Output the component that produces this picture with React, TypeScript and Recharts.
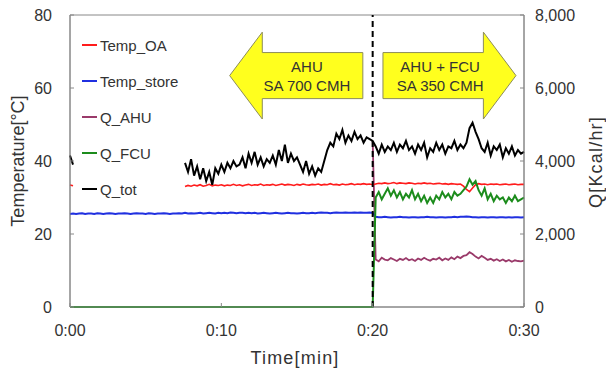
import { Legend, Line, LineChart, ReferenceArea, ReferenceLine, XAxis, YAxis } from 'recharts';

// sampling grid: one reading every 0.2 min over 0:00 - 0:30
const times: number[] = Array.from({ length: 151 }, (_, i) => Math.round(i * 2) / 10);

const xTicks = [0, 10, 20, 30];
const tempTicks = [0, 20, 40, 60, 80];
const qTicks = [0, 2000, 4000, 6000, 8000];

// Temp_OA [°C]: a short piece at 0:00, then from 0:07.6 on
const tempOaStart = [33.4, 33.2];
const tempOaMain = [
  33.0, 33.3, 33.1, 33.4, 33.2, 33.5, 33.1, 33.3, 33.6, 33.2,
  33.4, 33.3, 33.5, 33.2, 33.4, 33.3, 33.6, 33.3, 33.5, 33.2,
  33.4, 33.6, 33.3, 33.5, 33.4, 33.7, 33.3, 33.5, 33.4, 33.6,
  33.3, 33.5, 33.7, 33.4, 33.6, 33.5, 33.3, 33.6, 33.4, 33.7,
  33.5, 33.4, 33.6, 33.5, 33.7, 33.4, 33.6, 33.5, 33.8, 33.5,
  33.6, 33.4, 33.7, 33.5, 33.6, 33.8, 33.5, 33.7, 33.6, 33.8,
  33.6, 33.7, 33.5,
  33.7, 33.9, 33.8, 34.0, 33.8, 33.9, 34.1, 33.8, 34.0, 33.9,
  33.8, 34.0, 33.9, 33.7, 33.9, 33.8, 34.0, 33.8, 33.9, 33.7,
  33.8, 33.9, 33.7, 33.8, 33.6, 33.8, 33.7, 33.6, 33.7, 33.1,
  32.2, 31.6, 32.6, 33.5, 33.8, 33.6, 33.7, 33.5, 33.7, 33.6,
  33.7, 33.5, 33.6, 33.7, 33.5, 33.6, 33.7, 33.5, 33.6, 33.6,
];

// Temp_store [°C], whole run
const tempStore = [
  25.5, 25.6, 25.5, 25.6, 25.7, 25.5, 25.6, 25.6, 25.5, 25.7,
  25.6, 25.5, 25.6, 25.7, 25.6, 25.5, 25.6, 25.6, 25.7, 25.6,
  25.5, 25.6, 25.7, 25.6, 25.6, 25.5, 25.7, 25.6, 25.5, 25.6,
  25.6, 25.7, 25.6, 25.5, 25.6, 25.6, 25.7, 25.6, 25.8, 25.6,
  25.7, 25.6, 25.7, 25.8, 25.6, 25.7, 25.8, 25.7, 25.6, 25.8,
  25.7, 25.8, 25.7, 25.9, 25.8, 25.7, 25.8, 25.8, 25.7, 25.8,
  25.7, 25.8, 25.6, 25.7, 25.8, 25.7, 25.6, 25.7, 25.8, 25.7,
  25.6, 25.7, 25.8, 25.7, 25.7, 25.6, 25.7, 25.8, 25.7, 25.7,
  25.8, 25.7, 25.8, 25.9, 25.8, 25.8, 25.7, 25.8, 25.9, 25.8,
  25.8, 25.9, 25.8, 25.8, 25.9, 25.8, 25.9, 25.8, 25.8, 25.9,
  25.8,
  24.7, 24.6, 24.6, 24.7, 24.6, 24.5, 24.6, 24.6, 24.7, 24.6,
  24.6, 24.5, 24.6, 24.6, 24.5, 24.6, 24.6, 24.7, 24.6, 24.6,
  24.5, 24.6, 24.6, 24.5, 24.6, 24.6, 24.7, 24.6, 24.7, 24.7,
  24.8, 24.7, 24.6, 24.6, 24.5, 24.6, 24.6, 24.5, 24.6, 24.6,
  24.5, 24.6, 24.6, 24.5, 24.6, 24.5, 24.6, 24.6, 24.5, 24.6,
];

// Q_AHU [Kcal/hr] from 0:20 (before that it is all of Q_tot)
const qAhuFrom20 = [
  4550,
  1300, 1250, 1350, 1300, 1280, 1340, 1300, 1260, 1320, 1290,
  1340, 1280, 1310, 1260, 1330, 1290, 1350, 1300, 1270, 1320,
  1300, 1350, 1280, 1330, 1290, 1360, 1310, 1380, 1340, 1400,
  1420, 1500, 1450, 1380, 1330, 1400, 1350, 1290, 1320, 1270,
  1310, 1260, 1300, 1250, 1290, 1240, 1280, 1260, 1250, 1270,
];

// Q_FCU [Kcal/hr]: off (0) until 0:20
const qFcuOff = [0];
const qFcuFrom20 = [
  0,
  3000, 3150, 2950, 3100, 3250, 3050, 3200, 3000, 3150, 2950,
  3100, 3000, 3200, 2950, 3100, 2900, 3050, 2850, 3000, 2850,
  3050, 2950, 3150, 3000, 3100, 2950, 3150, 3050, 3100, 3200,
  3300, 3500, 3350, 3450, 3200, 3050, 3250, 2950, 3100, 2900,
  3050, 2950, 3000, 2850, 3000, 2900, 3050, 2900, 2950, 3000,
];

// Q_tot [Kcal/hr]
const qTotStart = [4150, 3900];
const qTotMain = [
  3950, 3700, 4050, 3600, 3850, 3500, 3800, 3450, 3700, 3350,
  3800, 3650, 3900, 3700, 3950, 3800, 4000, 3850, 3900, 4100,
  3800, 4200, 3950, 4250, 3900, 4100, 3850, 4050, 3950, 4150,
  3900, 4300, 4000, 4450, 3950, 4200, 4000, 4100, 3900, 3700,
  4000, 3650, 3850, 3600, 3800, 3700, 4000, 4300, 4500, 4400,
  4750, 4600, 4850, 4500, 4700, 4550, 4800, 4600, 4700, 4500,
  4650, 4600, 4550,
  4400, 4200, 4450, 4250, 4400, 4300, 4500, 4250, 4450, 4350,
  4550, 4300, 4400, 4200, 4450, 4300, 4500, 4100, 4350, 4250,
  4500, 4300, 4450, 4200, 4400, 4350, 4550, 4300, 4450, 4350,
  4500, 4900, 5050, 4800, 4600, 4350, 4250, 4500, 4150, 4400,
  4300, 4450, 4100, 4350, 4200, 4400, 4150, 4300, 4200, 4250,
];

type Row = Record<string, number | null>;
const table: Row[] = times.map((t) => ({ t, tempOa: null, tempStore: null, qAhu: null, qFcu: null, qTot: null }));

function place(key: string, from: number, values: number[]) {
  const i0 = times.indexOf(from);
  values.forEach((v, i) => {
    table[i0 + i][key] = v;
  });
}
place('tempOa', 0, tempOaStart);
place('tempOa', 7.6, tempOaMain);
place('tempStore', 0, tempStore);
place('qAhu', 20, qAhuFrom20);
place('qFcu', 0, qFcuOff);
place('qFcu', 20, qFcuFrom20);
place('qTot', 0, qTotStart);
place('qTot', 7.6, qTotMain);

const series = [
  { key: 'tempOa', name: 'Temp_OA', color: '#ff1c1c', axis: 'temp', width: 1.6 },
  { key: 'tempStore', name: 'Temp_store', color: '#2030e0', axis: 'temp', width: 2 },
  { key: 'qAhu', name: 'Q_AHU', color: '#9a3a6a', axis: 'q', width: 1.8 },
  { key: 'qFcu', name: 'Q_FCU', color: '#1c8c1c', axis: 'q', width: 2 },
  { key: 'qTot', name: 'Q_tot', color: '#000000', axis: 'q', width: 2 },
];
const drawOrder = ['qAhu', 'tempStore', 'tempOa', 'qFcu', 'qTot'];

// annotation arrows, in data units (minutes, °C)
const arrows = [
  { dir: 'left', x1: 10.55, x2: 19.35, lines: ['AHU', 'SA 700 CMH'], textAt: 0.58 },
  { dir: 'right', x1: 20.68, x2: 29.47, lines: ['AHU + FCU', 'SA 350 CMH'], textAt: 0.43 },
];
const arrowTop = 75.3;
const arrowBottom = 51.5;

const font = '"Liberation Sans", Arial, sans-serif';

function arrowShape(dir: string, lines: string[], textAt: number) {
  return (p: any) => {
    const { x, y, width: w, height: h } = p;
    const head = w * 0.245;
    const sTop = y + h * 0.235;
    const sBot = y + h * 0.765;
    const mid = y + h / 2;
    const pts =
      dir === 'left'
        ? [[x, mid], [x + head, y], [x + head, sTop], [x + w, sTop], [x + w, sBot], [x + head, sBot], [x + head, y + h]]
        : [[x + w, mid], [x + w - head, y], [x + w - head, sTop], [x, sTop], [x, sBot], [x + w - head, sBot], [x + w - head, y + h]];
    const cx = x + w * textAt;
    return (
      <g>
        <polygon points={pts.map((q) => q.join(',')).join(' ')} fill="#ffff1e" stroke="#8c8c5a" strokeWidth={1} />
        {lines.map((l, i) => (
          <text key={l} x={cx} y={y + h * (0.4 + i * 0.22)} dy="0.35em" textAnchor="middle" fontSize={15} fill="#333" fontFamily={font}>
            {l}
          </text>
        ))}
      </g>
    );
  };
}

function LegendBox() {
  return (
    <div style={{ fontFamily: font, fontSize: 15, color: '#333' }}>
      {series.map((s) => (
        <div key={s.key} style={{ display: 'flex', alignItems: 'center', height: 36 }}>
          <span style={{ display: 'inline-block', width: 15, height: 2, background: s.color, marginRight: 3 }} />
          <span>{s.name}</span>
        </div>
      ))}
    </div>
  );
}

const fmtTime = (v: number) => `0:${String(v).padStart(2, '0')}`;
const fmtQ = (v: number) => v.toLocaleString('en-US');
const tickStyle = { fill: '#333', fontSize: 16, fontFamily: font };

export default function App() {
  return (
    <div style={{ position: 'absolute', left: 0, top: 0, width: 606, height: 372, background: '#fff', fontFamily: font }}>
      <LineChart width={606} height={372} data={table} margin={{ top: 15, right: 0, bottom: 0, left: 0 }}>
        <XAxis
          dataKey="t"
          type="number"
          domain={[0, 30]}
          ticks={xTicks}
          tickFormatter={fmtTime}
          height={65}
          tick={tickStyle}
          tickSize={-4}
          tickMargin={22}
          axisLine={{ stroke: '#888' }}
          tickLine={{ stroke: '#888' }}
        />
        <YAxis
          yAxisId="temp"
          domain={[0, 80]}
          ticks={tempTicks}
          width={70}
          tick={tickStyle}
          tickSize={-4}
          tickMargin={22}
          axisLine={{ stroke: '#888' }}
          tickLine={{ stroke: '#888' }}
        />
        <YAxis
          yAxisId="q"
          orientation="right"
          domain={[0, 8000]}
          ticks={qTicks}
          tickFormatter={fmtQ}
          width={82}
          tick={tickStyle}
          tickSize={-4}
          tickMargin={15}
          axisLine={{ stroke: '#888' }}
          tickLine={{ stroke: '#888' }}
        />
        <ReferenceArea yAxisId="temp" x1={0} x2={30} y1={0} y2={80} fill="none" stroke="#888" strokeWidth={1} />
        {drawOrder.map((k) => {
          const s = series.find((d) => d.key === k)!;
          return (
            <Line
              key={s.key}
              yAxisId={s.axis}
              dataKey={s.key}
              name={s.name}
              type="linear"
              stroke={s.color}
              strokeWidth={s.width}
              dot={false}
              activeDot={false}
              connectNulls={s.key === 'qFcu'}
              isAnimationActive={false}
            />
          );
        })}
        <ReferenceLine yAxisId="temp" x={20} stroke="#000" strokeWidth={2} strokeDasharray="6 4" />
        {arrows.map((a) => (
          <ReferenceArea
            key={a.dir}
            yAxisId="temp"
            x1={a.x1}
            x2={a.x2}
            y1={arrowBottom}
            y2={arrowTop}
            shape={arrowShape(a.dir, a.lines, a.textAt)}
          />
        ))}
        <Legend
          layout="vertical"
          align="center"
          verticalAlign="middle"
          content={() => <LegendBox />}
          wrapperStyle={{ left: 82, top: 27, width: 'auto' }}
        />
      </LineChart>
      <div
        style={{
          position: 'absolute',
          left: 18,
          top: 161,
          transform: 'translate(-50%, -50%) rotate(-90deg)',
          fontSize: 18,
          color: '#333',
          whiteSpace: 'nowrap',
        }}
      >
        Temperature[°C]
      </div>
      <div
        style={{
          position: 'absolute',
          left: 596,
          top: 162,
          transform: 'translate(-50%, -50%) rotate(-90deg)',
          fontSize: 18,
          letterSpacing: 1.2,
          color: '#333',
          whiteSpace: 'nowrap',
        }}
      >
        Q[Kcal/hr]
      </div>
      <div
        style={{
          position: 'absolute',
          left: 295,
          top: 358,
          transform: 'translate(-50%, -50%)',
          fontSize: 18,
          letterSpacing: 1.2,
          color: '#333',
          whiteSpace: 'nowrap',
        }}
      >
        Time[min]
      </div>
    </div>
  );
}
